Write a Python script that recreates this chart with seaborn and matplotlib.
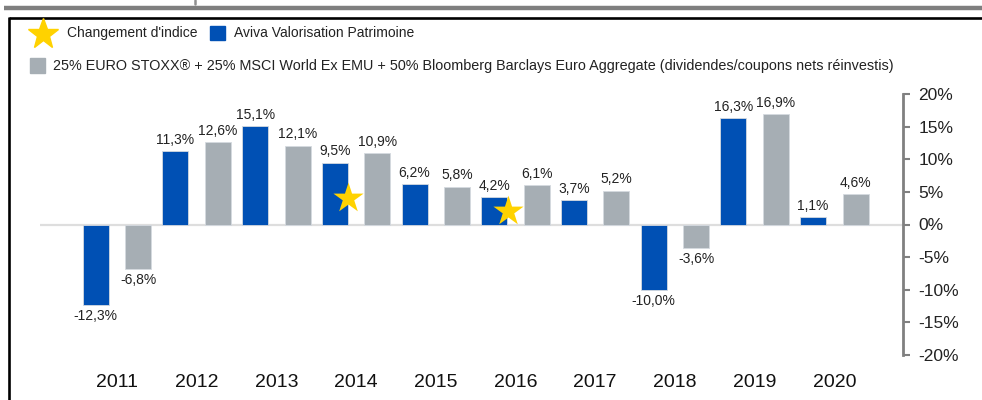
import pandas as pd
import numpy as np
import matplotlib
matplotlib.use('Agg')
import matplotlib.pyplot as plt
from matplotlib.lines import Line2D
from matplotlib.patches import Rectangle
import seaborn as sns

sns.set_theme(style="white")
plt.rcParams['font.family'] = ['Liberation Sans', 'DejaVu Sans']

# Données (performances annuelles en %)
years = ['2011', '2012', '2013', '2014', '2015', '2016', '2017', '2018', '2019', '2020']
fund_name = 'Aviva Valorisation Patrimoine'
bench_name = ('25% EURO STOXX® + 25% MSCI World Ex EMU + 50% Bloomberg Barclays '
              'Euro Aggregate (dividendes/coupons nets réinvestis)')
fund_perf = [-12.3, 11.3, 15.1, 9.5, 6.2, 4.2, 3.7, -10.0, 16.3, 1.1]
bench_perf = [-6.8, 12.6, 12.1, 10.9, 5.8, 6.1, 5.2, -3.6, 16.9, 4.6]
star_label = "Changement d'indice"
star_years = ['2014', '2016']
star_values = [4.0, 2.0]
ytick_values = [20, 15, 10, 5, 0, -5, -10, -15, -20]
ytick_labels = ['20%', '15%', '10%', '5%', '0%', '-5%', '-10%', '-15%', '-20%']

blue = '#0050B4'
grey = '#A6AEB4'
star_col = '#FFD200'

df = pd.DataFrame({
    'Année': years * 2,
    'Perf': fund_perf + bench_perf,
    'Série': [fund_name] * len(years) + [bench_name] * len(years),
})

fig = plt.figure(figsize=(9.82, 4.0), dpi=100)
ax = fig.add_axes([40 / 982, 45 / 400, 863 / 982, 261 / 400])

sns.barplot(data=df, x='Année', y='Perf', hue='Série', hue_order=[fund_name, bench_name],
            palette=[blue, grey], width=1.067, gap=0.39, ax=ax, legend=False,
            edgecolor='#d5dae0', linewidth=0.6, saturation=1)

# étiquettes de valeurs
for cont, vals in zip(ax.containers, [fund_perf, bench_perf]):
    ax.bar_label(cont, labels=[f"{v:.1f}%".replace('.', ',') for v in vals],
                 padding=3, fontsize=10, color='#222222')

# étoiles changement d'indice
star_x = [years.index(y) - 0.1 for y in star_years]
ax.scatter(star_x, star_values, marker='*', s=520, color=star_col, linewidth=0, zorder=5)

ax.axhline(0, color='#dedede', lw=1.6, zorder=0)
ax.set_xlim(-0.966, 9.862)
ax.set_ylim(-20, 20)

# axe de droite
ax.yaxis.tick_right()
ax.set_yticks(ytick_values)
ax.set_yticklabels(ytick_labels, fontsize=12.5, color='#222222')
ax.tick_params(axis='y', direction='out', length=5, width=1.5, color='#808080', pad=6)
ax.tick_params(axis='x', length=0, labelsize=14, pad=14, colors='#111111')
for s in ['left', 'top', 'bottom']:
    ax.spines[s].set_visible(False)
ax.spines['right'].set_color('#808080')
ax.spines['right'].set_linewidth(2)
ax.set_xlabel('')
ax.set_ylabel('')

# cadre et trait gris du haut
W, H = 982, 400
fig.add_artist(Line2D([4 / W, 1], [1 - 7.5 / H] * 2, color='#7f7f7f', lw=3.2,
                      solid_capstyle='butt', transform=fig.transFigure))
fig.add_artist(Line2D([195 / W] * 2, [1, 1 - 4 / H], color='#909090', lw=1.8, transform=fig.transFigure))
fig.add_artist(Line2D([8.5 / W, 1], [1 - 18 / H] * 2, color='black', lw=1.9,
                      solid_capstyle='butt', transform=fig.transFigure))
fig.add_artist(Line2D([8.5 / W] * 2, [1 - 17.3 / H, 0], color='black', lw=1.9,
                      solid_capstyle='butt', transform=fig.transFigure))

# légende
fig.add_artist(Line2D([43 / W], [1 - 34 / H], marker='*', ms=23, color=star_col, lw=0,
                      transform=fig.transFigure))
fig.text(67 / W, 1 - 33 / H, star_label, fontsize=10, va='center', color='#222222')
fig.add_artist(Rectangle((210 / W, 1 - 40 / H), 15 / W, 14 / H, color=blue, transform=fig.transFigure))
fig.text(234 / W, 1 - 33 / H, fund_name, fontsize=10, va='center', color='#222222')
fig.add_artist(Rectangle((30 / W, 1 - 73 / H), 15 / W, 15 / H, color=grey, transform=fig.transFigure))
fig.text(53 / W, 1 - 66 / H, bench_name, fontsize=10.35, va='center', color='#222222')

plt.savefig('out.png', dpi=100)
plt.close()
